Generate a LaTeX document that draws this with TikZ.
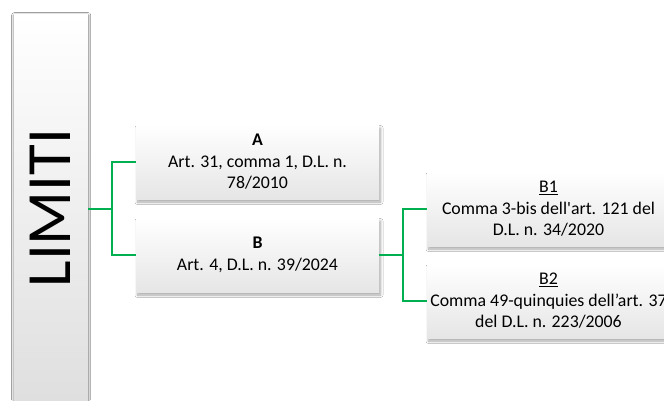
\documentclass[tikz,border=0pt]{standalone}
\usepackage{fontspec}
\setmainfont{Carlito}
\usetikzlibrary{shadows.blur}
\definecolor{linkgreen}{HTML}{00B050}
\tikzset{
  card/.style={draw=none, minimum width=243pt, minimum height=74pt, inner sep=0pt,
    top color=white, bottom color=black!10,
    blur shadow={shadow xshift=1.5pt, shadow yshift=-3pt, shadow blur steps=8,
      shadow blur radius=2.5pt, shadow opacity=35}},
  cardtext/.style={align=center, font=\fontsize{17.8}{21.5}\selectfont, inner sep=0pt},
  link/.style={draw=linkgreen, line width=1.8pt}
}
\begin{document}
\begin{tikzpicture}[x=1pt,y=-1pt]
\useasboundingbox (0,0) rectangle (664,400);
\clip (0,0) rectangle (664,400);
\fill[white] (0,0) rectangle (664,400);

% title bar on the left
\node[card, minimum width=74pt, minimum height=430pt, anchor=north west,
  top color=white, bottom color=black!14,
  blur shadow={shadow xshift=0pt, shadow yshift=-1pt, shadow blur steps=8,
    shadow blur radius=2.5pt, shadow opacity=35}] (lim) at (14,14) {};
\node[rotate=90, font=\fontsize{63}{63}\selectfont, inner sep=0pt] (limtext) at (50,208) {LIMITI};

% first level
\node[card] (a) at (257.5,162) {};
\node[cardtext] (atext) at (a) {\textbf{A}\\Art. 31, comma 1, D.L. n.\\78/2010};
\node[card] (b) at (257.5,255) {};
\node[cardtext] (btext) at (b) {\textbf{B}\\Art. 4, D.L. n. 39/2024};

% second level
\node[card] (b1) at (548.5,209) {};
\node[cardtext] (b1text) at (b1) {\underline{B1}\\Comma 3-bis dell\textquotesingle art. 121 del\\D.L. n. 34/2020};
\node[card] (b2) at (548.5,301) {};
\node[cardtext] (b2text) at (b2) {\underline{B2}\\Comma 49-quinquies dell’art. 37\\del D.L. n. 223/2006};

% connectors
\coordinate (j1) at (112,209);
\coordinate (j2) at (403,255);
\draw[link] (lim.east |- j1) -- (j1);
\draw[link] (a.west) -| (j1) |- (b.west);
\draw[link] (b.east) -- (j2);
\draw[link] (b1.west) -| (j2) |- (b2.west);
\end{tikzpicture}
\end{document}
